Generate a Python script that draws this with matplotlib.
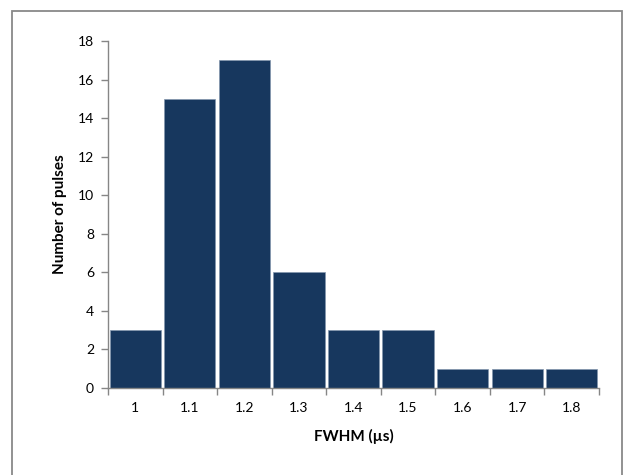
import matplotlib.pyplot as plt
from matplotlib.patches import Rectangle

# histogram of pulse widths
fwhm_labels = ["1", "1.1", "1.2", "1.3", "1.4", "1.5", "1.6", "1.7", "1.8"]
pulse_counts = [3, 15, 17, 6, 3, 3, 1, 1, 1]
y_ticks = [0, 2, 4, 6, 8, 10, 12, 14, 16, 18]

plt.rcParams["font.family"] = ["Lato", "DejaVu Sans"]

fig = plt.figure(figsize=(6.32, 4.75), dpi=100)
ax = fig.add_axes([0.1709, 0.1832, 0.7769, 0.7305])

# chart area border, as in the spreadsheet export
fig.patches.append(Rectangle((12 / 632, -0.05), 610 / 632, 1 - 11 / 475 + 0.05,
                             transform=fig.transFigure, fill=False,
                             edgecolor="#898989", linewidth=1.3))

x = list(range(len(pulse_counts)))
ax.bar(x, pulse_counts, width=0.94, color="#17375E", edgecolor="#8496AD", linewidth=0.5)

ax.set_xlim(-0.5, len(pulse_counts) - 0.5)
ax.set_ylim(0, 18)
ax.set_yticks(y_ticks)
ax.set_yticklabels([str(v) for v in y_ticks], fontsize=10)

ax.set_xticks(x)
ax.set_xticklabels(fwhm_labels, fontsize=10)
ax.set_xticks([i - 0.5 for i in range(len(pulse_counts) + 1)], minor=True)
ax.tick_params(axis="x", which="major", length=0, pad=10)
ax.tick_params(axis="x", which="minor", length=5, color="#868686", width=1)
ax.tick_params(axis="y", length=5, color="#868686", width=1, pad=5)

for side in ["top", "right"]:
    ax.spines[side].set_visible(False)
for side in ["left", "bottom"]:
    ax.spines[side].set_color("#868686")
    ax.spines[side].set_linewidth(1)

ax.set_xlabel("FWHM (\u00b5s)", fontsize=11, fontweight="bold", labelpad=11)
ax.set_ylabel("Number of pulses", fontsize=11, fontweight="bold", labelpad=8)

fig.savefig("out.png", dpi=100)
